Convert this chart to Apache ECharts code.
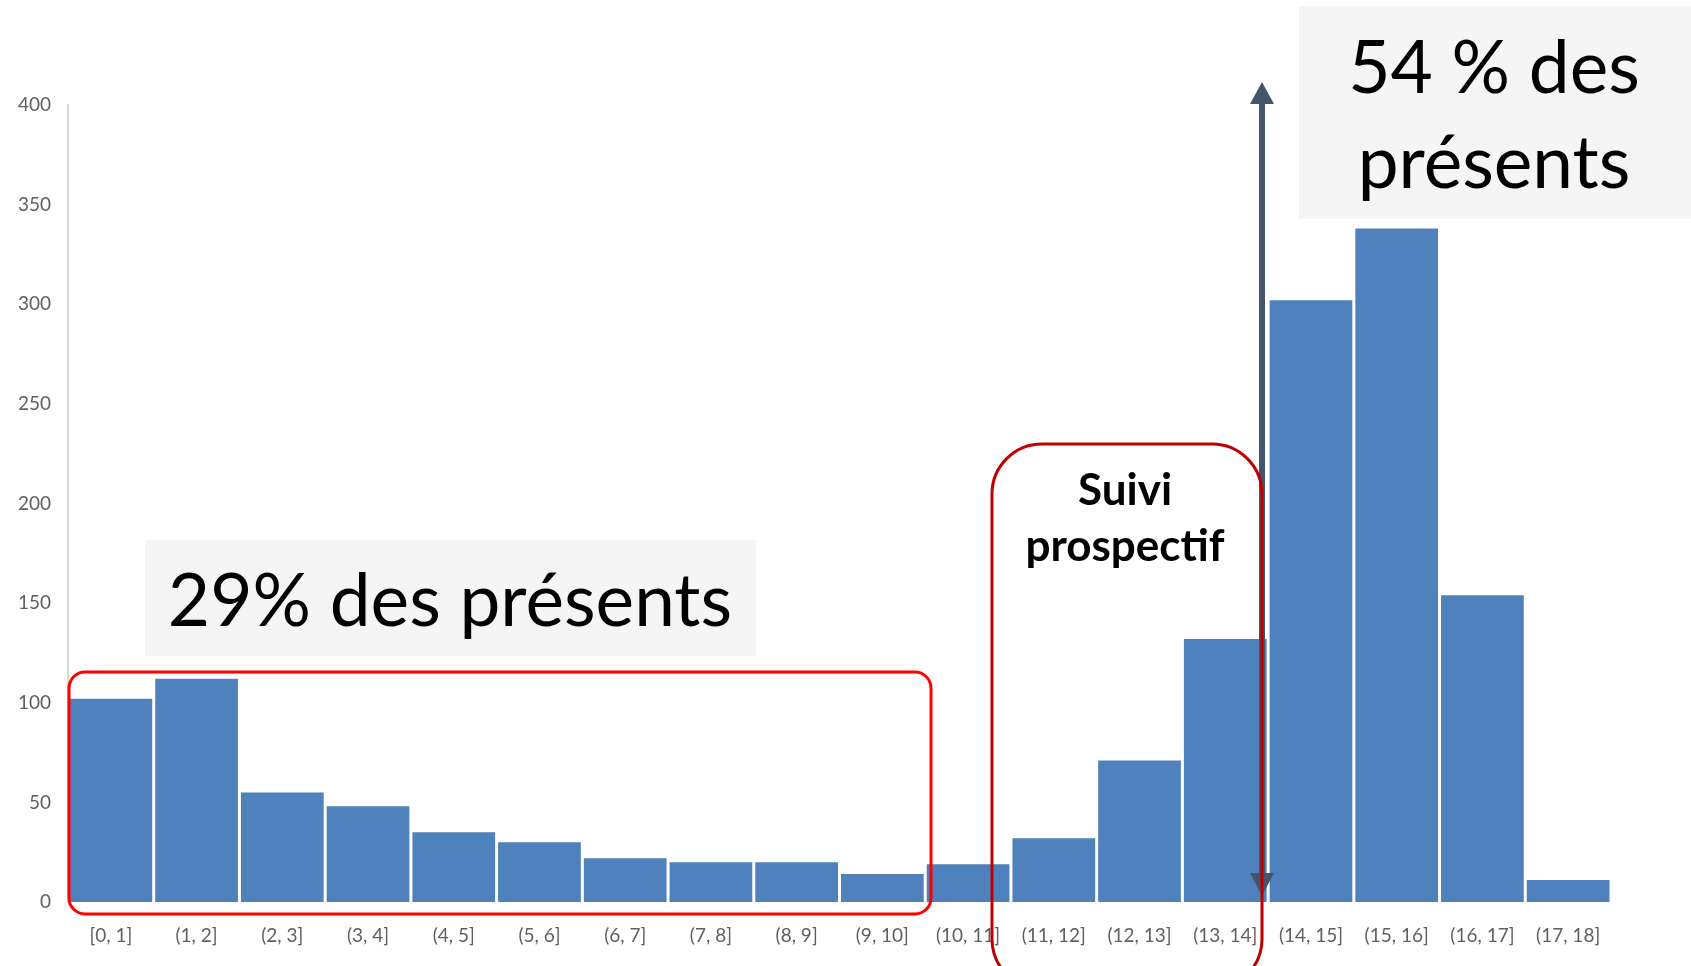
<!DOCTYPE html>
<html>
<head>
<meta charset="utf-8">
<script src="https://cdn.jsdelivr.net/npm/echarts@6/dist/echarts.min.js"></script>
<style>
  html, body { margin: 0; padding: 0; background: #fff; }
  #chart { width: 1691px; height: 966px; }
</style>
</head>
<body>
<div id="chart"></div>
<script>
// histogram classes and counts
const categories = ['[0, 1]', '(1, 2]', '(2, 3]', '(3, 4]', '(4, 5]', '(5, 6]', '(6, 7]', '(7, 8]', '(8, 9]',
    '(9, 10]', '(10, 11]', '(11, 12]', '(12, 13]', '(13, 14]', '(14, 15]', '(15, 16]', '(16, 17]', '(17, 18]'];
const counts = [102, 112, 55, 48, 35, 30, 22, 20, 20, 14, 19, 32, 71, 132, 302, 338, 154, 11];
const yTicks = [0, 50, 100, 150, 200, 250, 300, 350, 400];

const labelFont = 'Lato, "Noto Sans", sans-serif';

let chart = echarts.init(document.getElementById('chart'));
chart.setOption({
    animation: false,
    grid: { left: 68, right: 80, top: 105, bottom: 64 },
    xAxis: {
        type: 'category',
        data: categories,
        axisLine: { show: false },
        axisTick: { show: false },
        axisLabel: { interval: 0, margin: 24, fontSize: 19, color: '#606060', fontFamily: labelFont }
    },
    yAxis: {
        type: 'value',
        min: yTicks[0],
        max: yTicks[yTicks.length - 1],
        interval: 50,
        axisLine: { show: true, lineStyle: { color: '#d9d9d9', width: 2 } },
        axisTick: { show: false },
        splitLine: { show: false },
        axisLabel: { margin: 17, fontSize: 19, color: '#606060', fontFamily: labelFont, padding: [4, 0, 0, 0] }
    },
    series: [{
        type: 'bar',
        data: counts,
        barCategoryGap: '3.5%',
        itemStyle: { color: '#4f81bd' }
    }],
    graphic: [
        // grey label boxes
        { type: 'rect', z: 1, shape: { x: 145, y: 540, width: 611, height: 116 }, style: { fill: '#f5f5f5' } },
        { type: 'text', z: 2, x: 450, y: 602, style: { text: '29% des présents', font: '73px ' + labelFont, fill: '#000', align: 'center', verticalAlign: 'middle' } },
        { type: 'rect', z: 1, shape: { x: 1299, y: 6, width: 392, height: 213 }, style: { fill: '#f5f5f5' } },
        { type: 'text', z: 2, x: 1494, y: 69, style: { text: '54 % des', font: '73px ' + labelFont, fill: '#000', align: 'center', verticalAlign: 'middle' } },
        { type: 'text', z: 2, x: 1494, y: 164, style: { text: 'présents', font: '73px ' + labelFont, fill: '#000', align: 'center', verticalAlign: 'middle' } },
        // red frames
        { type: 'rect', z: 10, shape: { x: 69, y: 672, width: 862, height: 242, r: 16 }, style: { fill: null, stroke: '#ff0000', lineWidth: 3 } },
        { type: 'rect', z: 10, shape: { x: 992, y: 444, width: 270, height: 545, r: 50 }, style: { fill: null, stroke: '#c00000', lineWidth: 3 } },
        { type: 'text', z: 11, x: 1125, y: 491, style: { text: 'Suivi', font: 'bold 44px ' + labelFont, fill: '#000', align: 'center', verticalAlign: 'middle' } },
        { type: 'text', z: 11, x: 1125, y: 547, style: { text: 'prospectif', font: 'bold 44px ' + labelFont, fill: '#000', align: 'center', verticalAlign: 'middle' } },
        // double arrow
        { type: 'line', z: 9, shape: { x1: 1262, y1: 100, x2: 1262, y2: 878 }, style: { stroke: '#44546a', lineWidth: 6 } },
        { type: 'polygon', z: 9, shape: { points: [[1250, 104], [1262, 82], [1274, 104]] }, style: { fill: '#44546a' } },
        { type: 'polygon', z: 9, shape: { points: [[1250, 873], [1262, 896], [1274, 873]] }, style: { fill: '#44546a' } }
    ]
});
</script>
</body>
</html>
